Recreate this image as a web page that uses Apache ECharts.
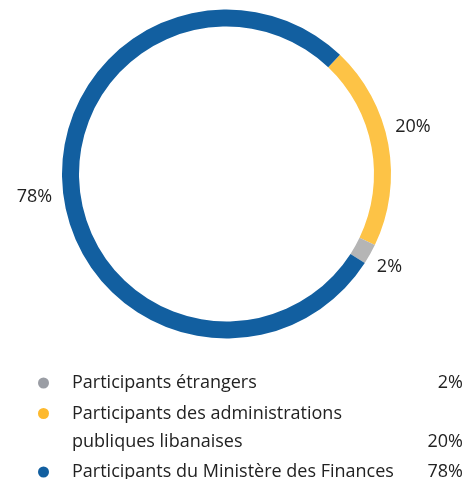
<!DOCTYPE html>
<html>
<head>
<meta charset="utf-8">
<script src="https://cdn.jsdelivr.net/npm/echarts@6/dist/echarts.min.js"></script>
<style>html,body{margin:0;padding:0;background:#fff;}#c{width:475px;height:479px;}</style>
</head>
<body>
<div id="c"></div>
<script>
// Data (ring order, clockwise)
var categories = ['Participants des administrations publiques libanaises', 'Participants étrangers', 'Participants du Ministère des Finances'];
var values = [20, 2, 78];
var colors = ['#fdc346', '#b5b5b5', '#125fa0'];
var legendOrder = ['Participants étrangers', 'Participants des administrations publiques libanaises', 'Participants du Ministère des Finances'];
var legendLines = [['Participants étrangers'], ['Participants des administrations', 'publiques libanaises'], ['Participants du Ministère des Finances']];
var legendDotColors = ['#9a9da4', '#fdb92e', '#125fa0'];

// label nudges (dx, dy) per ring slice
var labelNudge = [[0, -17], [0, 12], [-4, 3]];

var FONT = 'Open Sans';
var rich = {
  n: {width: 329, fontSize: 18, fontFamily: FONT, color: '#222', lineHeight: 28},
  v: {width: 62, align: 'right', fontSize: 18, fontFamily: FONT, color: '#222', lineHeight: 28},
  gap: {width: 23, lineHeight: 28},
  ind: {width: 34, lineHeight: 28}
};
legendDotColors.forEach(function (c, i) {
  rich['d' + i] = {width: 11, height: 11, borderRadius: 5.5, backgroundColor: c};
});

var chart = echarts.init(document.getElementById('c'), null, {renderer: 'canvas'});
chart.setOption({
  animation: false,
  color: colors,
  legend: {
    data: legendOrder,
    orient: 'vertical',
    left: 33,
    top: 374,
    height: 140,
    itemWidth: 0,
    itemHeight: 0,
    itemGap: 12.5,
    selectedMode: false,
    icon: 'circle',
    padding: 0,
    textStyle: {rich: rich, fontFamily: FONT, fontSize: 18, color: '#222'},
    formatter: function (name) {
      var li = legendOrder.indexOf(name);
      var ci = categories.indexOf(name);
      var pct = values[ci] + '%';
      var lines = legendLines[li];
      if (lines.length === 1) {
        return '{d' + li + '|}{gap|}{n|' + lines[0] + '}{v|' + pct + '}';
      }
      return '{d' + li + '|}{gap|}{n|' + lines[0] + '}{v|}\n{ind|}{n|' + lines[1] + '}{v|' + pct + '}';
    }
  },
  series: [{
    type: 'pie',
    center: [226.5, 174],
    radius: [147.5, 164.5],
    startAngle: 46.4,
    clockwise: true,
    avoidLabelOverlap: false,
    silent: true,
    label: {
      show: true,
      position: 'outside',
      formatter: '{c}%',
      fontFamily: FONT,
      fontSize: 18,
      color: '#222'
    },
    labelLine: {show: false, length: 2, length2: 0},
    labelLayout: function (p) {
      var n = labelNudge[p.dataIndex];
      return {dx: n[0], dy: n[1]};
    },
    data: categories.map(function (n, i) {
      return {name: n, value: values[i], itemStyle: {color: colors[i]}};
    })
  }]
});
</script>
</body>
</html>
